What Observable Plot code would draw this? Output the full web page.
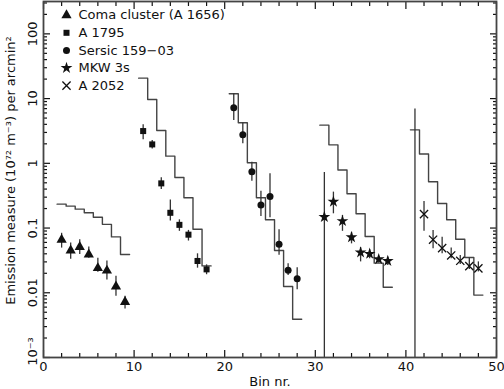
<!DOCTYPE html>
<html><head><meta charset="utf-8">
<script src="https://cdn.jsdelivr.net/npm/d3@7"></script>
<script src="https://cdn.jsdelivr.net/npm/@observablehq/plot@0.6"></script>
<style>
body{margin:0;background:#fff;}
#chart{width:504px;height:389px;}
</style></head><body><div id="chart"></div>
<script>
// ---- data ----
const names = ["Coma cluster (A 1656)", "A 1795", "Sersic 159\u221203", "MKW 3s", "A 2052"];

const comaBins  = [2, 3, 4, 5, 6, 7, 8, 9];
const comaEM    = [0.066, 0.045, 0.051, 0.039, 0.024, 0.022, 0.0125, 0.0072];
const comaHi    = [0.083, 0.059, 0.066, 0.051, 0.034, 0.031, 0.018, 0.0088];
const comaLo    = [0.049, 0.033, 0.039, 0.034, 0.0208, 0.0158, 0.0088, 0.0056];
const comaModel = [0.234, 0.218, 0.196, 0.172, 0.147, 0.114, 0.073, 0.039];

const a1795Bins  = [11, 12, 13, 14, 15, 16, 17, 18];
const a1795EM    = [3.15, 1.96, 0.49, 0.172, 0.112, 0.079, 0.031, 0.023];
const a1795Hi    = [3.95, 2.26, 0.60, 0.27, 0.134, 0.092, 0.040, 0.027];
const a1795Lo    = [2.32, 1.66, 0.395, 0.128, 0.089, 0.063, 0.024, 0.019];
const a1795Model = [20.7, 9.7, 3.22, 1.29, 0.605, 0.294, 0.096, 0.026];

const sersicBins  = [21, 22, 23, 24, 25, 26, 27, 28];
const sersicEM    = [7.23, 2.77, 0.74, 0.226, 0.308, 0.056, 0.0223, 0.0164];
const sersicHi    = [11.9, 4.18, 1.04, 0.37, 0.69, 0.094, 0.028, 0.0243];
const sersicLo    = [4.6, 2.01, 0.53, 0.151, 0.144, 0.038, 0.0185, 0.0111];
const sersicModel = [11.9, 4.24, 1.02, 0.294, 0.134, 0.045, 0.0125, 0.0039];

const mkwBins  = [31, 32, 33, 34, 35, 36, 37, 38];
const mkwEM    = [0.148, 0.255, 0.128, 0.072, 0.042, 0.040, 0.033, 0.031];
const mkwHi    = [0.72, 0.359, 0.157, 0.086, 0.050, 0.046, 0.036, 0.0354];
const mkwLo    = [1e-5, 0.166, 0.089, 0.057, 0.030, 0.0335, 0.0287, 0.0263];
const mkwModel = [3.89, 1.93, 0.79, 0.339, 0.166, 0.074, 0.0287, 0.0122];

const a2052Bins  = [41, 42, 43, 44, 45, 46, 47, 48];
const a2052EM    = [null, 0.164, 0.066, 0.049, 0.0377, 0.0312, 0.0258, 0.0238];
const a2052Hi    = [6.9, 0.258, 0.092, 0.072, 0.049, 0.0377, 0.0344, 0.030];
const a2052Lo    = [1e-5, 0.089, 0.048, 0.040, 0.0336, 0.0273, 0.0228, 0.0210];
const a2052Model = [3.29, 1.39, 0.52, 0.24, 0.134, 0.067, 0.035, 0.0092];

const xMajor = [0, 10, 20, 30, 40, 50];
const xMinor = [2, 4, 6, 8, 12, 14, 16, 18, 22, 24, 26, 28, 32, 34, 36, 38, 42, 44, 46, 48];
const yMajor = [0.001, 0.01, 0.1, 1, 10, 100];
const yLabels = ["10\u207B\u00B3", "0.01", "0.1", "1", "10", "100"];
const xTitle = "Bin nr.";
const yTitle = "Emission measure (10\u2077\u00B2 m\u207B\u00B3) per arcmin\u00B2";

// ---- build tables ----
const symbols = ["triangle", "square", "circle", "star", "times"];
const sizes = [3.8, 3.4, 3.5, 3.7, 3.8];
const raw = [
  [comaBins, comaEM, comaLo, comaHi, comaModel],
  [a1795Bins, a1795EM, a1795Lo, a1795Hi, a1795Model],
  [sersicBins, sersicEM, sersicLo, sersicHi, sersicModel],
  [mkwBins, mkwEM, mkwLo, mkwHi, mkwModel],
  [a2052Bins, a2052EM, a2052Lo, a2052Hi, a2052Model]
];
const series = raw.map(([bins, em, lo, hi, model], i) => ({
  name: names[i], symbol: symbols[i], r: sizes[i],
  points: bins.map((b, j) => ({bin: b, em: em[j], lo: lo[j], hi: hi[j]})),
  steps: bins.flatMap((b, j) => [{x: b - 0.5, y: model[j]}, {x: b + 0.5, y: model[j]}])
}));

const yMinor = [];
for (let d = -3; d <= 2; d++) for (let k = 2; k <= 9; k++) {
  const v = k * Math.pow(10, d);
  if (v < Math.pow(10, 2.5)) yMinor.push(v);
}

const ink = "#111";
const marks = [];
for (const s of series) {
  marks.push(Plot.line(s.steps, {x: "x", y: "y", stroke: "#444", strokeWidth: 1.4}));
}
for (const s of series) {
  marks.push(Plot.ruleX(s.points, {x: "bin", y1: "lo", y2: "hi", stroke: "#333", strokeWidth: 1.3, clip: true}));
  const hollow = s.symbol === "times";
  marks.push(Plot.dot(s.points, {x: "bin", y: "em", symbol: s.symbol, r: s.r,
    fill: hollow ? "none" : ink, stroke: hollow ? ink : "none", strokeWidth: 1.3}));
}
series.forEach((s, i) => {
  const hollow = s.symbol === "times";
  const dy = 13.7 + 17.6 * i;
  marks.push(Plot.dot([s.name], {frameAnchor: "top-left", dx: 23, dy, symbol: s.symbol, r: s.r,
    fill: hollow ? "none" : ink, stroke: hollow ? ink : "none", strokeWidth: 1.3}));
  marks.push(Plot.text([s.name], {text: d => d, frameAnchor: "top-left", dx: 35, dy,
    textAnchor: "start", lineAnchor: "middle", fontSize: 13, fill: ink}));
});

// axes: inward ticks on all four sides
for (const a of ["bottom", "top"]) {
  marks.push(Plot.axisX({anchor: a, ticks: xMajor, tickSize: -7, text: null, label: null, stroke: ink, strokeWidth: 1.2}));
  marks.push(Plot.axisX({anchor: a, ticks: xMinor, tickSize: -4, text: null, label: null, stroke: ink, strokeWidth: 1.2}));
}
for (const a of ["left", "right"]) {
  marks.push(Plot.axisY({anchor: a, ticks: yMajor, tickSize: -7, text: null, label: null, stroke: ink, strokeWidth: 1.2}));
  marks.push(Plot.axisY({anchor: a, ticks: yMinor, tickSize: -4, text: null, label: null, stroke: ink, strokeWidth: 1.2}));
}
marks.push(Plot.axisX({anchor: "bottom", ticks: xMajor, tickSize: 0, tickPadding: 4, label: null, fontSize: 13, fill: ink}));
marks.push(Plot.axisY({anchor: "left", ticks: yMajor.slice(1), tickSize: 0, tickPadding: 7, tickRotate: -90, label: null,
  tickFormat: v => yLabels[yMajor.indexOf(v)], fontSize: 13, fill: ink}));
marks.push(Plot.axisY({anchor: "left", ticks: yMajor.slice(0, 1), tickSize: 0, tickPadding: 7, tickRotate: -90, label: null,
  tickFormat: v => yLabels[yMajor.indexOf(v)], fontSize: 13, fill: ink, dy: -6}));
marks.push(Plot.frame({stroke: "#444", strokeWidth: 1.8}));
marks.push(Plot.text([xTitle], {text: d => d, frameAnchor: "bottom", dy: 24, lineAnchor: "middle", fontSize: 13, fill: ink}));
marks.push(Plot.text([yTitle], {text: d => d, frameAnchor: "left", rotate: -90, dx: -33, dy: -9,
  textAnchor: "middle", lineAnchor: "middle", fontSize: 13, fill: ink}));

const chart = Plot.plot({
  width: 504, height: 389,
  marginLeft: 43, marginRight: 8, marginTop: 1, marginBottom: 32,
  x: {domain: [0, 50]},
  y: {type: "log", domain: [1e-3, Math.pow(10, 2.5)]},
  style: {fontFamily: "'DejaVu Sans', sans-serif", fontSize: "13px", background: "#fff", color: ink},
  marks
});
document.getElementById("chart").appendChild(chart);
</script>
</body></html>
